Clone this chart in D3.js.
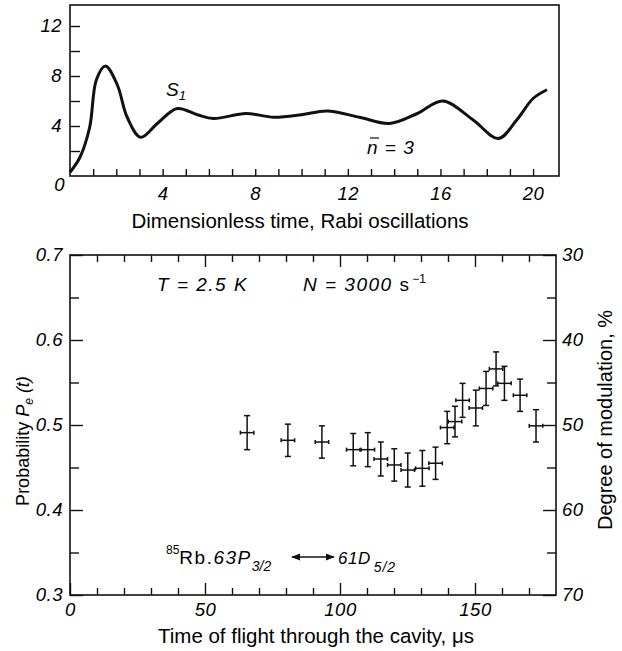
<!DOCTYPE html>
<html>
<head>
<meta charset="utf-8">
<script src="https://cdn.jsdelivr.net/npm/d3@7"></script>
<style>
  body { margin: 0; background: #fff; }
  svg { display: block; font-family: "Liberation Sans", Arial, sans-serif; }
  .tl { font-family: "Liberation Sans", Arial, sans-serif; font-style: italic; font-size: 18.5px; letter-spacing: 0.5px; }
</style>
</head>
<body>
<svg id="fig" width="622" height="651"></svg>
<script>
// top panel: Rabi oscillation curve S1 (n = 3)
var rabiT = [0, 0.43, 0.85, 1.14, 1.53, 2.04, 2.47, 3.05, 3.77, 4.63, 5.5, 6.2, 7.6, 8.8, 10.0, 11.1, 12.5, 13.8, 15.0, 16.1, 17.4, 18.5, 19.3, 20.0, 20.6];
var rabiS = [0.3, 1.5, 3.9, 7.7, 8.8, 7.3, 4.7, 3.1, 4.2, 5.4, 4.9, 4.6, 5.0, 4.7, 4.9, 5.2, 4.7, 4.2, 5.0, 6.0, 4.5, 3.0, 4.5, 6.2, 6.9];
var rabiXTicks = [4, 8, 12, 16, 20];
var rabiYTicks = [4, 8, 12];

// bottom panel: measured Pe(t) with error bars
var flightT = [65.6, 80.7, 93.3, 104.9, 110.3, 115.1, 120.1, 125.1, 130.5, 135.4, 139.7, 142.6, 145.4, 150.3, 154.1, 157.8, 160.9, 166.7, 172.6];
var probPe  = [0.491, 0.482, 0.480, 0.471, 0.471, 0.460, 0.453, 0.447, 0.449, 0.455, 0.497, 0.504, 0.529, 0.520, 0.543, 0.566, 0.549, 0.535, 0.499];
var probErr = [0.020, 0.019, 0.019, 0.019, 0.020, 0.020, 0.019, 0.020, 0.021, 0.019, 0.019, 0.018, 0.020, 0.021, 0.020, 0.020, 0.020, 0.019, 0.019];
var timeErr = 2.5;
var flightTicks = [0, 50, 100, 150];
var probTicks = [0.3, 0.4, 0.5, 0.6, 0.7];
var modTicks = [30, 40, 50, 60, 70];

var svg = d3.select("#fig");
svg.append("rect").attr("width", 622).attr("height", 651).attr("fill", "#fff");

function tidy(g, sw) {
    g.select(".domain").remove();
    g.selectAll(".tick line").attr("stroke", "#111").attr("stroke-width", sw || 1.4);
    g.selectAll(".tick text").attr("class", "tl").attr("fill", "#000");
}

/**** top panel ****/
var x1 = d3.scaleLinear().domain([0, 21.12]).range([70, 559]);
var y1 = d3.scaleLinear().domain([0, 13.68]).range([176, 5]);

var topG = svg.append("g");
topG.append("g").attr("transform", "translate(0,176)")
    .call(d3.axisBottom(x1).tickValues(d3.range(1, 21)).tickSize(-7).tickPadding(11)
        .tickFormat(function (d) { return rabiXTicks.indexOf(d) >= 0 ? d : ""; }))
    .call(tidy);
topG.append("g").attr("transform", "translate(70,0)")
    .call(d3.axisLeft(y1).tickValues([2, 4, 6, 8, 10, 12]).tickSize(-10).tickPadding(8)
        .tickFormat(function (d) { return rabiYTicks.indexOf(d) >= 0 ? d : ""; }))
    .call(tidy);
topG.append("text").attr("class", "tl").attr("x", x1(0) - 5).attr("y", y1(0) + 15)
    .attr("text-anchor", "end").text("0");
topG.append("rect").attr("x", x1(0)).attr("y", y1.range()[1])
    .attr("width", x1.range()[1] - x1(0)).attr("height", y1(0) - y1.range()[1])
    .attr("fill", "none").attr("stroke", "#111").attr("stroke-width", 1.6);

var rabiLine = d3.line()
    .x(function (d, i) { return x1(rabiT[i]); })
    .y(function (d) { return y1(d); })
    .curve(d3.curveCatmullRom.alpha(0.5));
topG.append("path").attr("d", rabiLine(rabiS))
    .attr("fill", "none").attr("stroke", "#111").attr("stroke-width", 3);

var s1 = topG.append("text").attr("x", 166).attr("y", 96).attr("font-style", "italic").attr("font-size", 19);
s1.append("tspan").text("S");
s1.append("tspan").attr("font-size", 13).attr("dy", 4).text("1");
topG.append("text").attr("x", 367).attr("y", 154).attr("font-style", "italic").attr("font-size", 19)
    .attr("letter-spacing", 1).text("n = 3");
topG.append("line").attr("x1", 370).attr("x2", 379).attr("y1", 138).attr("y2", 138)
    .attr("stroke", "#111").attr("stroke-width", 1.2);
topG.append("text").attr("font-size", 20.5).attr("x", 300).attr("y", 228).attr("text-anchor", "middle")
    .text("Dimensionless time, Rabi oscillations");

/**** bottom panel ****/
var x2 = d3.scaleLinear().domain([0, 180]).range([70, 556]);
var y2 = d3.scaleLinear().domain([0.3, 0.7]).range([595, 255]);
var y2r = d3.scaleLinear().domain([70, 30]).range([595, 255]);

var bot = svg.append("g");
var minorX = d3.range(10, 180, 10).filter(function (d) { return d % 50 !== 0; });
bot.append("g").attr("transform", "translate(0,595)")
    .call(d3.axisBottom(x2).tickValues(minorX).tickSize(-7).tickFormat(""))
    .call(tidy);
bot.append("g").attr("transform", "translate(0,595)")
    .call(d3.axisBottom(x2).tickValues(flightTicks).tickSize(-12).tickPadding(8))
    .call(tidy);
bot.append("g").attr("transform", "translate(0,255)")
    .call(d3.axisTop(x2).tickValues(minorX).tickSize(-7).tickFormat(""))
    .call(tidy);
bot.append("g").attr("transform", "translate(0,255)")
    .call(d3.axisTop(x2).tickValues([50, 100, 150]).tickSize(-12).tickFormat(""))
    .call(tidy);

bot.append("g").attr("transform", "translate(70,0)")
    .call(d3.axisLeft(y2).tickValues([0.35, 0.45, 0.55, 0.65]).tickSize(-9).tickFormat(""))
    .call(tidy);
bot.append("g").attr("transform", "translate(70,0)")
    .call(d3.axisLeft(y2).tickValues(probTicks).tickSize(-13).tickPadding(7).tickFormat(d3.format(".1f")))
    .call(tidy);
bot.append("g").attr("transform", "translate(556,0)")
    .call(d3.axisRight(y2r).tickValues([35, 45, 55, 65]).tickSize(-9).tickFormat(""))
    .call(tidy);
bot.append("g").attr("transform", "translate(556,0)")
    .call(d3.axisRight(y2r).tickValues(modTicks).tickSize(-13).tickPadding(6))
    .call(tidy);

bot.append("rect").attr("x", 70).attr("y", 255).attr("width", 486).attr("height", 340)
    .attr("fill", "none").attr("stroke", "#111").attr("stroke-width", 1.6);

// error bars
var pts = bot.append("g").attr("stroke", "#111").attr("stroke-width", 1.5)
    .selectAll("g").data(flightT).enter().append("g");
pts.append("line")
    .attr("x1", function (d) { return x2(d); }).attr("x2", function (d) { return x2(d); })
    .attr("y1", function (d, i) { return y2(probPe[i] + probErr[i]); })
    .attr("y2", function (d, i) { return y2(probPe[i] - probErr[i]); });
pts.append("line")
    .attr("x1", function (d) { return x2(d - timeErr); }).attr("x2", function (d) { return x2(d + timeErr); })
    .attr("y1", function (d, i) { return y2(probPe[i]); })
    .attr("y2", function (d, i) { return y2(probPe[i]); });
[1, -1].forEach(function (s) {
    pts.append("line")
        .attr("x1", function (d) { return x2(d) - 3; }).attr("x2", function (d) { return x2(d) + 3; })
        .attr("y1", function (d, i) { return y2(probPe[i] + s * probErr[i]); })
        .attr("y2", function (d, i) { return y2(probPe[i] + s * probErr[i]); });
    pts.append("line")
        .attr("x1", function (d) { return x2(d + s * timeErr); }).attr("x2", function (d) { return x2(d + s * timeErr); })
        .attr("y1", function (d, i) { return y2(probPe[i]) - 2; })
        .attr("y2", function (d, i) { return y2(probPe[i]) + 2; });
});

// annotations
bot.append("text").attr("x", 157).attr("y", 291).attr("font-style", "italic").attr("font-size", 19)
    .attr("letter-spacing", 1.5).text("T = 2.5 K");
var nt = bot.append("text").attr("x", 303).attr("y", 291).attr("font-size", 19);
nt.append("tspan").attr("font-style", "italic").attr("letter-spacing", 1.5).text("N = 3000 ");
nt.append("tspan").text("s");
nt.append("tspan").attr("font-size", 12).attr("dy", -8).text(" \u22121");

var rb = bot.append("text").attr("x", 166).attr("y", 564).attr("font-size", 19);
rb.append("tspan").attr("font-size", 12).attr("dy", -10).text("85");
rb.append("tspan").attr("dy", 10).attr("letter-spacing", 1.5).text("Rb.");
rb.append("tspan").attr("font-style", "italic").attr("letter-spacing", 1.5).text("63P");
rb.append("tspan").attr("font-style", "italic").attr("font-size", 14).attr("dy", 7).text("3/2");
var rb2 = bot.append("text").attr("x", 338).attr("y", 564).attr("font-size", 17).attr("font-style", "italic");
rb2.append("tspan").attr("letter-spacing", 0.5).text("61D");
rb2.append("tspan").attr("font-size", 14).attr("dx", 3).attr("dy", 8).attr("letter-spacing", 1).text("5/2");

var defs = svg.append("defs");
defs.append("marker").attr("id", "ah").attr("viewBox", "0 0 10 10").attr("refX", 9).attr("refY", 5)
    .attr("markerWidth", 7).attr("markerHeight", 7).attr("orient", "auto-start-reverse")
    .append("path").attr("d", "M0,1L10,5L0,9z").attr("fill", "#111");
bot.append("line").attr("x1", 292).attr("x2", 334).attr("y1", 557).attr("y2", 557)
    .attr("stroke", "#111").attr("stroke-width", 1.3)
    .attr("marker-start", "url(#ah)").attr("marker-end", "url(#ah)");

bot.append("text").attr("font-size", 20.5).attr("x", 316).attr("y", 643).attr("text-anchor", "middle")
    .text("Time of flight through the cavity, \u03bcs");

var yl = bot.append("text").attr("font-size", 18)
    .attr("transform", "translate(29,441) rotate(-90)").attr("text-anchor", "middle");
yl.append("tspan").text("Probability ");
yl.append("tspan").attr("font-style", "italic").text("P");
yl.append("tspan").attr("font-style", "italic").attr("font-size", 12).attr("dy", 4).text("e");
yl.append("tspan").attr("font-style", "italic").attr("dy", -4).text(" (t)");

bot.append("text").attr("font-size", 20)
    .attr("transform", "translate(612,420) rotate(-90)").attr("text-anchor", "middle")
    .text("Degree of modulation, %");
</script>
</body>
</html>
